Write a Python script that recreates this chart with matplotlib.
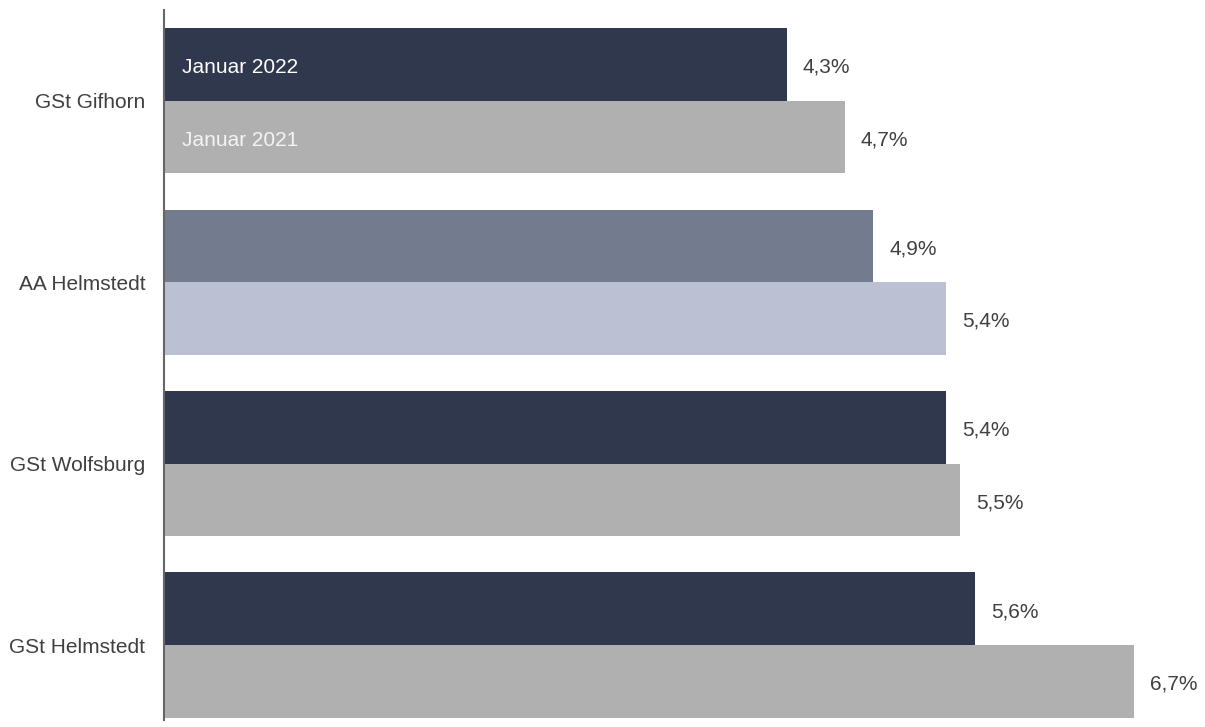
import numpy as np
import matplotlib.pyplot as plt

plt.rcParams['font.family'] = ['Liberation Sans', 'DejaVu Sans']

categories = ["GSt Gifhorn", "AA Helmstedt", "GSt Wolfsburg", "GSt Helmstedt"]
jan_2022 = [4.3, 4.9, 5.4, 5.6]
jan_2021 = [4.7, 5.4, 5.5, 6.7]
series_names = ["Januar 2022", "Januar 2021"]

colors_2022 = ["#30384d", "#737b8e", "#30384d", "#30384d"]
colors_2021 = ["#b0b0b0", "#bbc1d3", "#b0b0b0", "#b0b0b0"]


def fmt(v):
    return ("%.1f%%" % v).replace(".", ",")


def main():
    fig = plt.figure(figsize=(12.05, 7.27), dpi=100)
    ax = fig.add_axes([164 / 1205, 7 / 727, 1028 / 1205, 710 / 727])

    y = np.arange(len(categories))
    h = 0.4
    ax.barh(y - h / 2, jan_2022, height=h, color=colors_2022)
    ax.barh(y + h / 2, jan_2021, height=h, color=colors_2021)

    for i in range(len(categories)):
        ax.annotate(fmt(jan_2022[i]), (jan_2022[i], y[i] - h / 2),
                    xytext=(16, -3), textcoords='offset pixels',
                    va='center', ha='left', fontsize=15, color='#404040')
        ax.annotate(fmt(jan_2021[i]), (jan_2021[i], y[i] + h / 2),
                    xytext=(16, -3), textcoords='offset pixels',
                    va='center', ha='left', fontsize=15, color='#404040')

    # series names inside the first group
    ax.annotate(series_names[0], (0, y[0] - h / 2), xytext=(18, -3),
                textcoords='offset pixels', va='center', ha='left',
                fontsize=15, color='white')
    ax.annotate(series_names[1], (0, y[0] + h / 2), xytext=(18, -3),
                textcoords='offset pixels', va='center', ha='left',
                fontsize=15, color='#f4f4f4')

    ax.set_xlim(0, 7.1)
    ax.set_ylim(3.413, -0.5)
    ax.set_yticks(y)
    ax.set_yticklabels(categories, fontsize=15, color='#404040')
    ax.tick_params(axis='y', length=0, pad=13.5)
    ax.set_xticks([])

    for s in ['top', 'right', 'bottom']:
        ax.spines[s].set_visible(False)
    ax.spines['left'].set_color('#666666')
    ax.spines['left'].set_linewidth(1.5)

    fig.savefig("out.png", dpi=100)


if __name__ == '__main__':
    main()
